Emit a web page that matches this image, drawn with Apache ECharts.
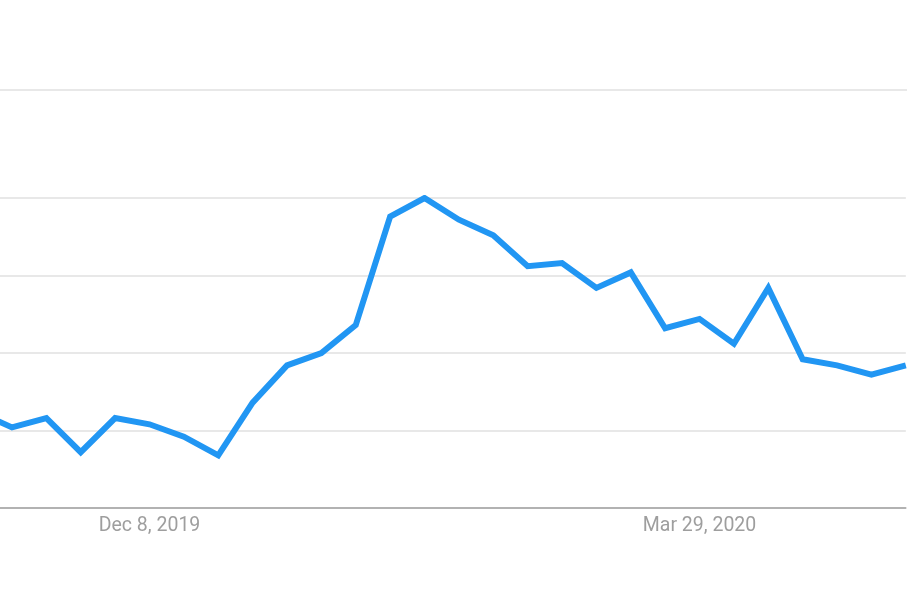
<!DOCTYPE html>
<html>
<head>
<meta charset="utf-8">
<script src="https://cdn.jsdelivr.net/npm/echarts@6/dist/echarts.min.js"></script>
<style>
  html, body { margin: 0; padding: 0; background: #fff; }
  #chart { width: 907px; height: 605px; }
</style>
</head>
<body>
<div id="chart"></div>
<script>
// weekly points, first one sits just left of the visible area
var weeks = [
  'Nov 3, 2019', 'Nov 10, 2019', 'Nov 17, 2019', 'Nov 24, 2019', 'Dec 1, 2019',
  'Dec 8, 2019', 'Dec 15, 2019', 'Dec 22, 2019', 'Dec 29, 2019', 'Jan 5, 2020',
  'Jan 12, 2020', 'Jan 19, 2020', 'Jan 26, 2020', 'Feb 2, 2020', 'Feb 9, 2020',
  'Feb 16, 2020', 'Feb 23, 2020', 'Mar 1, 2020', 'Mar 8, 2020', 'Mar 15, 2020',
  'Mar 22, 2020', 'Mar 29, 2020', 'Apr 5, 2020', 'Apr 12, 2020', 'Apr 19, 2020',
  'Apr 26, 2020', 'May 3, 2020', 'May 10, 2020'
];
var interest = [
  31, 26, 29, 18, 29, 27, 23, 17, 34, 46,
  50, 59, 94, 100, 93, 88, 78, 79, 71, 76,
  58, 61, 53, 71, 48, 46, 43, 46
];
var shownLabels = ['Dec 8, 2019', 'Mar 29, 2020'];
var yTicks = [0, 25, 50, 75, 100];

var chart = echarts.init(document.getElementById('chart'));
var option = {
  animation: false,
  grid: { left: -22.4, right: 1.2, top: 198, bottom: 97, outerBoundsMode: 'none', containLabel: false },
  graphic: [
    // thin rule above the plot
    { type: 'line', shape: { x1: 0, y1: 90, x2: 907, y2: 90 },
      style: { stroke: '#e0e0e0', lineWidth: 1.5 }, z: 0 }
  ],
  xAxis: {
    type: 'category',
    data: weeks,
    boundaryGap: false,
    axisLine: { show: true, lineStyle: { color: '#a0a0a0', width: 1.5 } },
    axisTick: { show: false },
    axisLabel: {
      interval: function (i, v) { return shownLabels.indexOf(v) > -1 },
      color: '#9e9e9e',
      fontFamily: 'Roboto',
      fontSize: 19.5,
      margin: 8
    },
    splitLine: { show: false }
  },
  yAxis: {
    type: 'value',
    min: yTicks[0],
    max: yTicks[yTicks.length - 1],
    interval: 25,
    axisLine: { show: false },
    axisTick: { show: false },
    axisLabel: { show: false },
    splitLine: { lineStyle: { color: '#e0e0e0', width: 1.5 } }
  },
  series: [{
    type: 'line',
    data: interest,
    symbol: 'none',
    clip: true,
    lineStyle: { color: '#2196f3', width: 6, join: 'miter' }
  }]
};
chart.setOption(option);
</script>
</body>
</html>
